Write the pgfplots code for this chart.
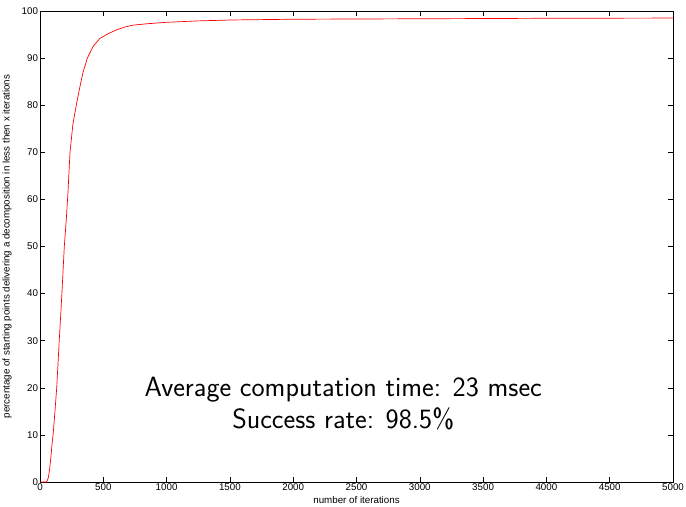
\documentclass[border=0pt]{standalone}
\usepackage{fontspec}
\setmainfont{Liberation Sans}
\usepackage{pgfplots}
\pgfplotsset{compat=1.18}

\begin{document}
\begin{tikzpicture}
\begin{axis}[
  scale only axis,
  width=633bp, height=471bp,
  xmin=0, xmax=5000, ymin=0, ymax=100,
  xtick={0,500,...,5000}, ytick={0,10,...,100},
  tick align=inside, tick pos=both,
  major tick length=5bp,
  axis line style={line width=0.9pt},
  every tick/.style={black, line width=0.6pt},
  scaled x ticks=false,
  /pgf/number format/assume math mode=true,
  /pgf/number format/set thousands separator={},
  tick label style={font=\fontsize{9.8}{10}\selectfont},
  xticklabel style={yshift=1.5bp},
  yticklabel style={xshift=1.5bp},
  label style={font=\fontsize{9.8}{11}\selectfont},
  xlabel={number of iterations},
  ylabel={percentage of starting points delivering a decomposition in less then x iterations},
  xlabel style={at={(axis description cs:0.5,0)}, anchor=center, yshift=-18.5bp},
  ylabel style={at={(axis description cs:0,0.5)}, anchor=center, yshift=33bp},
]
\addplot[red, line width=0.7pt, mark=none] coordinates {
(0,0) (50,0) (58,0.3) (66,1) (75,2.5) (85,5) (95,8) (105,10.5) (118,15)
(132,20) (152,30) (171,39) (192,50) (207,55.5) (220,61) (237,70) (260,76)
(290,80.5) (316,84) (340,87) (374,90) (420,92.5) (474,94.2) (540,95.2)
(605,96) (670,96.6) (737,97) (850,97.3) (1000,97.6) (1250,97.9) (1527,98.1)
(2000,98.25) (3000,98.35) (4000,98.45) (5000,98.5)
};
\node[align=center, font=\sffamily\fontsize{28}{32}\selectfont] at (axis cs:2395,16.6)
  {Average computation time: 23 msec\\Success rate: 98.5\%};
\end{axis}
\pgfresetboundingbox
\path[use as bounding box] ([shift={(-40bp,-24bp)}]current axis.south west)
  rectangle ([shift={(13bp,11bp)}]current axis.north east);
\end{tikzpicture}
\end{document}
